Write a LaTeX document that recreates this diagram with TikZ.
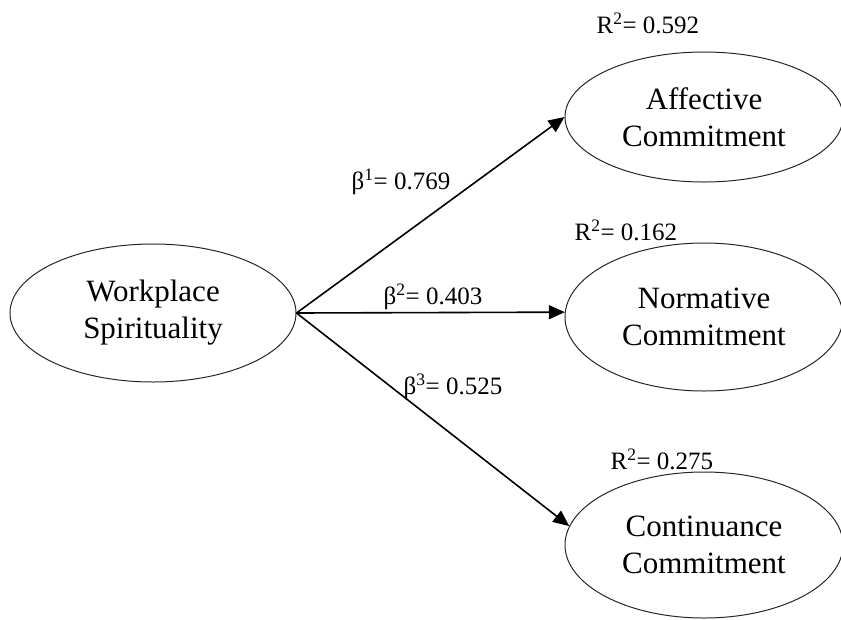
\documentclass[tikz,border=0pt]{standalone}
\usepackage{fontspec}
\setmainfont{Liberation Serif}
\usetikzlibrary{shapes.geometric,arrows.meta}

\tikzset{
    construct/.style={ellipse, draw=black!85, line width=1pt, inner sep=0pt,
        minimum width=278pt, align=center,
        font=\fontsize{31}{37}\selectfont},
    effect/.style={-{Triangle[length=16pt,width=14pt]}, line width=1.6pt},
    coef/.style={inner sep=0pt, font=\fontsize{25}{30}\selectfont}
}

\begin{document}
\begin{tikzpicture}[x=1pt,y=-1pt]
    \useasboundingbox (0,0) rectangle (841,619);

    % Predictor
    \node[construct, minimum width=286pt, minimum height=138pt]
        (ws) at (153,313) {Workplace\\Spirituality};

    % Outcomes
    \node[construct, minimum height=130pt]
        (ac) at (704,117) {Affective\\Commitment};
    \node[construct, minimum height=148pt]
        (nc) at (704,317) {Normative\\Commitment};
    \node[construct, minimum height=146pt]
        (cc) at (704,545) {Continuance\\Commitment};

    % Paths
    \draw[effect] (ws.east) -- (ac.west);
    \draw[effect] (ws.east) -- (nc.178);
    \draw[effect] (ws.east) -- (cc.172);

    % Path coefficients
    \node[coef] (b1) at (401,182) {β\textsuperscript{1}= 0.769};
    \node[coef] (b2) at (433,297) {β\textsuperscript{2}= 0.403};
    \node[coef] (b3) at (453,387) {β\textsuperscript{3}= 0.525};

    % Explained variance
    \node[coef] (r1) at (648,23) {R\textsuperscript{2}= 0.592};
    \node[coef] (r2) at (626,230) {R\textsuperscript{2}= 0.162};
    \node[coef] (r3) at (662,459) {R\textsuperscript{2}= 0.275};

\end{tikzpicture}
\end{document}
